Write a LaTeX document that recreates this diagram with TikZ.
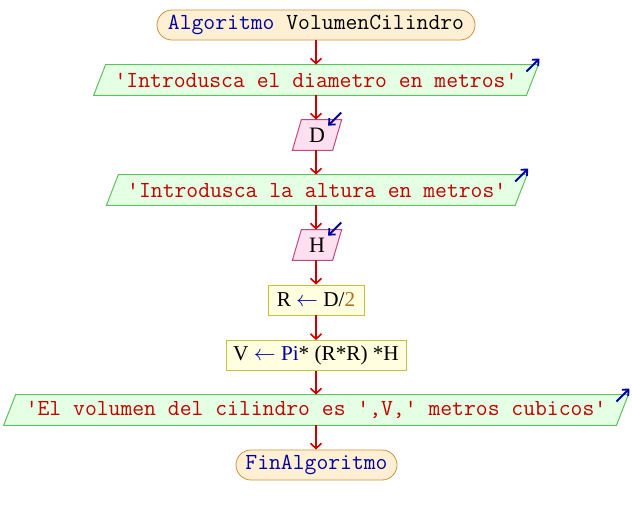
\documentclass[tikz,border=0pt]{standalone}
\usepackage{fontspec}
\setmainfont{Liberation Serif}
\usetikzlibrary{arrows.meta,backgrounds}
\definecolor{termfill}{HTML}{FFF0D4}
\definecolor{termdraw}{HTML}{D09040}
\definecolor{outfill}{HTML}{E4FFE4}
\definecolor{outdraw}{HTML}{60C060}
\definecolor{infill}{HTML}{FFE0F0}
\definecolor{indraw}{HTML}{C04880}
\definecolor{asgfill}{HTML}{FFFFE0}
\definecolor{asgdraw}{HTML}{C8C040}
\definecolor{strcol}{HTML}{C00000}
\definecolor{kwcol}{HTML}{0000A0}
\definecolor{numcol}{HTML}{B07020}
\definecolor{flowcol}{HTML}{CC0000}
\newcommand{\monosz}{\ttfamily\fontsize{11.5}{13}\selectfont}
\newcommand{\serifsz}{\fontsize{11}{13}\selectfont}
\newcommand{\asgsz}{\fontsize{10.6}{13}\selectfont}
\tikzset{
  term/.style={draw=termdraw,fill=termfill,rounded corners=7.5pt,inner sep=0pt,minimum height=15pt,font=\monosz},
  iobox/.style={inner sep=0pt,minimum height=15pt},
  outtxt/.style={iobox,font=\monosz\color{strcol}},
  intxt/.style={iobox,font=\serifsz},
  outshape/.style={draw=outdraw,fill=outfill,line width=0.5pt},
  inshape/.style={draw=indraw,fill=infill,line width=0.5pt},
  asg/.style={draw=asgdraw,fill=asgfill,inner sep=0pt,minimum height=15pt,font=\asgsz},
  flow/.style={draw=flowcol,line width=0.8pt,-{Straight Barb[length=2.6pt,width=5.5pt,line width=0.8pt]}},
  icon/.style={draw=kwcol,line width=0.9pt,-{Straight Barb[length=2.4pt,width=4.5pt,line width=0.9pt]}}
}
% parallelogram around a node: #1 node, #2 half slant (pt), #3 style
\newcommand{\parabox}[3]{%
  \path[#3] ([xshift=#2]#1.north east) -- ([xshift=#2]#1.north west) -- ([xshift=-#2]#1.south west) -- ([xshift=-#2]#1.south east) -- cycle;}
\begin{document}
\begin{tikzpicture}[x=0.5pt,y=-0.5pt]
\useasboundingbox (0,0) rectangle (632,515);
% start
\node[term,minimum width=159pt] (start) at (316,25) {\color{kwcol}Algoritmo \color{black}VolumenCilindro};
% output 1
\node[outtxt,minimum width=216pt] (o1) at (316,80) {'Introdusca el diametro en metros'};
% input D
\node[intxt,minimum width=19.75pt] (d) at (317,135) {D};
% output 2
\node[outtxt,minimum width=204pt] (o2) at (316.75,190) {'Introdusca la altura en metros'};
% input H
\node[intxt,minimum width=19.75pt] (h) at (317,245) {H};
% assignments
\node[asg,minimum width=48pt] (r) at (316,300) {R \textcolor{kwcol}{$\leftarrow$} D/\textcolor{numcol}{2}};
\node[asg,minimum width=90pt] (v) at (316,355.5) {V \textcolor{kwcol}{$\leftarrow$} \textcolor{kwcol}{Pi}* (R*R) *H};
% output 3
\node[outtxt,minimum width=306pt] (o3) at (316,410) {'El volumen del cilindro es ',V,' metros cubicos'};
% end
\node[term,minimum width=80.5pt] (fin) at (316.5,465) {\color{kwcol}FinAlgoritmo};
% shapes behind texts
\begin{scope}[on background layer]
  \parabox{o1}{3pt}{outshape}
  \parabox{o2}{3pt}{outshape}
  \parabox{o3}{3pt}{outshape}
  \parabox{d}{2.25pt}{inshape}
  \parabox{h}{2.25pt}{inshape}
\end{scope}
% flow connectors
\draw[flow] (start.south) -- (start.south |- o1.north);
\draw[flow] (start.south |- o1.south) -- (start.south |- d.north);
\draw[flow] (start.south |- d.south) -- (start.south |- o2.north);
\draw[flow] (start.south |- o2.south) -- (start.south |- h.north);
\draw[flow] (start.south |- h.south) -- (start.south |- r.north);
\draw[flow] (r.south) -- (r.south |- v.north);
\draw[flow] (v.south) -- (v.south |- o3.north);
\draw[flow] (v.south |- o3.south) -- (v.south |- fin.north);
% in/out icons
\draw[icon] ([shift={(-6,7)}]o1.north east) -- ([shift={(7,-6)}]o1.north east);
\draw[icon] ([shift={(-6,7)}]o2.north east) -- ([shift={(7,-6)}]o2.north east);
\draw[icon] ([shift={(-6,7)}]o3.north east) -- ([shift={(7,-6)}]o3.north east);
\draw[icon] ([shift={(4,-7)}]d.north east) -- ([shift={(-9,6)}]d.north east);
\draw[icon] ([shift={(4,-7)}]h.north east) -- ([shift={(-9,6)}]h.north east);
\end{tikzpicture}
\end{document}
